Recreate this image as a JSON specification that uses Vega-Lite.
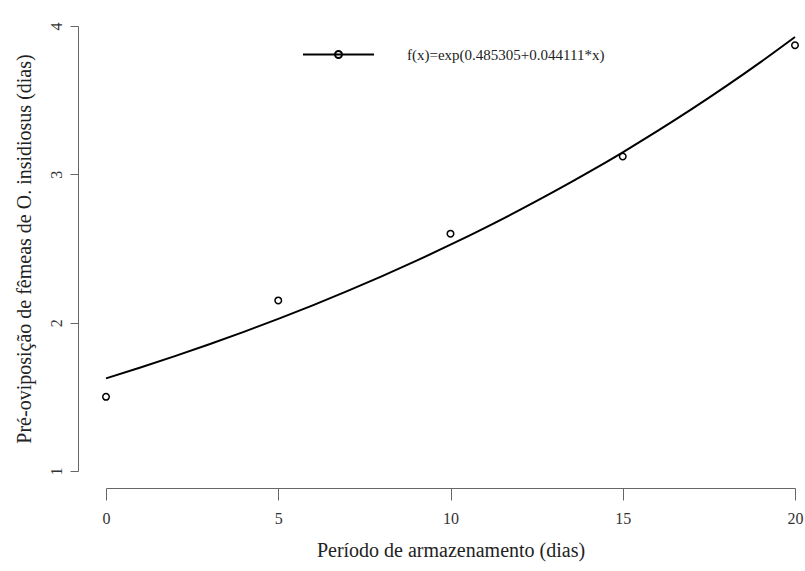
{
  "$schema": "https://vega.github.io/schema/vega-lite/v6.json",
  "autosize": {"type": "none"},
  "width": 689,
  "height": 445,
  "padding": {"left": 106, "top": 26, "right": 10, "bottom": 100},
  "background": "white",
  "config": {
    "view": {"stroke": null},
    "font": "Liberation Serif",
    "axis": {
      "grid": false,
      "labelFlush": false,
      "labelOverlap": false,
      "domainColor": "#666666",
      "tickColor": "#666666",
      "domainWidth": 1,
      "tickWidth": 1,
      "labelFont": "Liberation Serif",
      "titleFont": "Liberation Serif",
      "labelColor": "#333333",
      "titleColor": "#222222",
      "labelFontSize": 16,
      "titleFontSize": 20,
      "titleFontWeight": "normal"
    }
  },
  "datasets": {
    "curve": [
      {"x": 0, "y": 1.62467, "serie": "f(x)=exp(0.485305+0.044111*x)"},
      {"x": 1, "y": 1.69795, "serie": "f(x)=exp(0.485305+0.044111*x)"},
      {"x": 2, "y": 1.77458, "serie": "f(x)=exp(0.485305+0.044111*x)"},
      {"x": 3, "y": 1.85461, "serie": "f(x)=exp(0.485305+0.044111*x)"},
      {"x": 4, "y": 1.93825, "serie": "f(x)=exp(0.485305+0.044111*x)"},
      {"x": 5, "y": 2.02566, "serie": "f(x)=exp(0.485305+0.044111*x)"},
      {"x": 6, "y": 2.11701, "serie": "f(x)=exp(0.485305+0.044111*x)"},
      {"x": 7, "y": 2.21248, "serie": "f(x)=exp(0.485305+0.044111*x)"},
      {"x": 8, "y": 2.31226, "serie": "f(x)=exp(0.485305+0.044111*x)"},
      {"x": 9, "y": 2.41654, "serie": "f(x)=exp(0.485305+0.044111*x)"},
      {"x": 10, "y": 2.52552, "serie": "f(x)=exp(0.485305+0.044111*x)"},
      {"x": 11, "y": 2.63942, "serie": "f(x)=exp(0.485305+0.044111*x)"},
      {"x": 12, "y": 2.75845, "serie": "f(x)=exp(0.485305+0.044111*x)"},
      {"x": 13, "y": 2.88285, "serie": "f(x)=exp(0.485305+0.044111*x)"},
      {"x": 14, "y": 3.01286, "serie": "f(x)=exp(0.485305+0.044111*x)"},
      {"x": 15, "y": 3.14873, "serie": "f(x)=exp(0.485305+0.044111*x)"},
      {"x": 16, "y": 3.29073, "serie": "f(x)=exp(0.485305+0.044111*x)"},
      {"x": 17, "y": 3.43914, "serie": "f(x)=exp(0.485305+0.044111*x)"},
      {"x": 18, "y": 3.59424, "serie": "f(x)=exp(0.485305+0.044111*x)"},
      {"x": 19, "y": 3.75633, "serie": "f(x)=exp(0.485305+0.044111*x)"},
      {"x": 20, "y": 3.92573, "serie": "f(x)=exp(0.485305+0.044111*x)"}
    ],
    "obs": [
      {"x": 0, "y": 1.50},
      {"x": 5, "y": 2.15},
      {"x": 10, "y": 2.60},
      {"x": 15, "y": 3.12},
      {"x": 20, "y": 3.87}
    ]
  },
  "encoding": {
    "x": {
      "field": "x",
      "type": "quantitative",
      "scale": {"domain": [0, 20], "nice": false, "zero": false},
      "axis": {
        "title": "Período de armazenamento (dias)",
        "values": [0, 5, 10, 15, 20],
        "offset": 17,
        "tickSize": 12,
        "labelPadding": 10,
        "titlePadding": 14
      }
    },
    "y": {
      "field": "y",
      "type": "quantitative",
      "scale": {"domain": [1, 4], "nice": false, "zero": false},
      "axis": {
        "title": "Pré-oviposição de fêmeas de O. insidiosus (dias)",
        "values": [1, 2, 3, 4],
        "offset": 28,
        "tickSize": 8,
        "labelAngle": 270,
        "labelAlign": "center",
        "labelBaseline": "bottom",
        "labelPadding": 6,
        "titlePadding": 14
      }
    }
  },
  "layer": [
    {
      "data": {"name": "curve"},
      "mark": {"type": "line", "strokeWidth": 2, "interpolate": "monotone"},
      "encoding": {
        "stroke": {
          "field": "serie",
          "type": "nominal",
          "scale": {"range": ["black"]},
          "legend": {
            "title": null,
            "orient": "none",
            "legendX": 196,
            "legendY": -8,
            "padding": 0,
            "symbolType": "M-1,0L1,0M-0.0986,0A0.0986,0.0986,0,1,1,0.0986,0A0.0986,0.0986,0,1,1,-0.0986,0",
            "symbolSize": 5041,
            "symbolStrokeWidth": 2,
            "symbolFillColor": "transparent",
            "labelOffset": 32,
            "labelFont": "Liberation Serif",
            "labelFontSize": 15,
            "labelColor": "#222222",
            "labelLimit": 0
          }
        }
      }
    },
    {
      "data": {"name": "obs"},
      "mark": {"type": "point", "shape": "circle", "filled": false, "size": 42, "strokeWidth": 1.5, "color": "black", "opacity": 1}
    }
  ]
}
